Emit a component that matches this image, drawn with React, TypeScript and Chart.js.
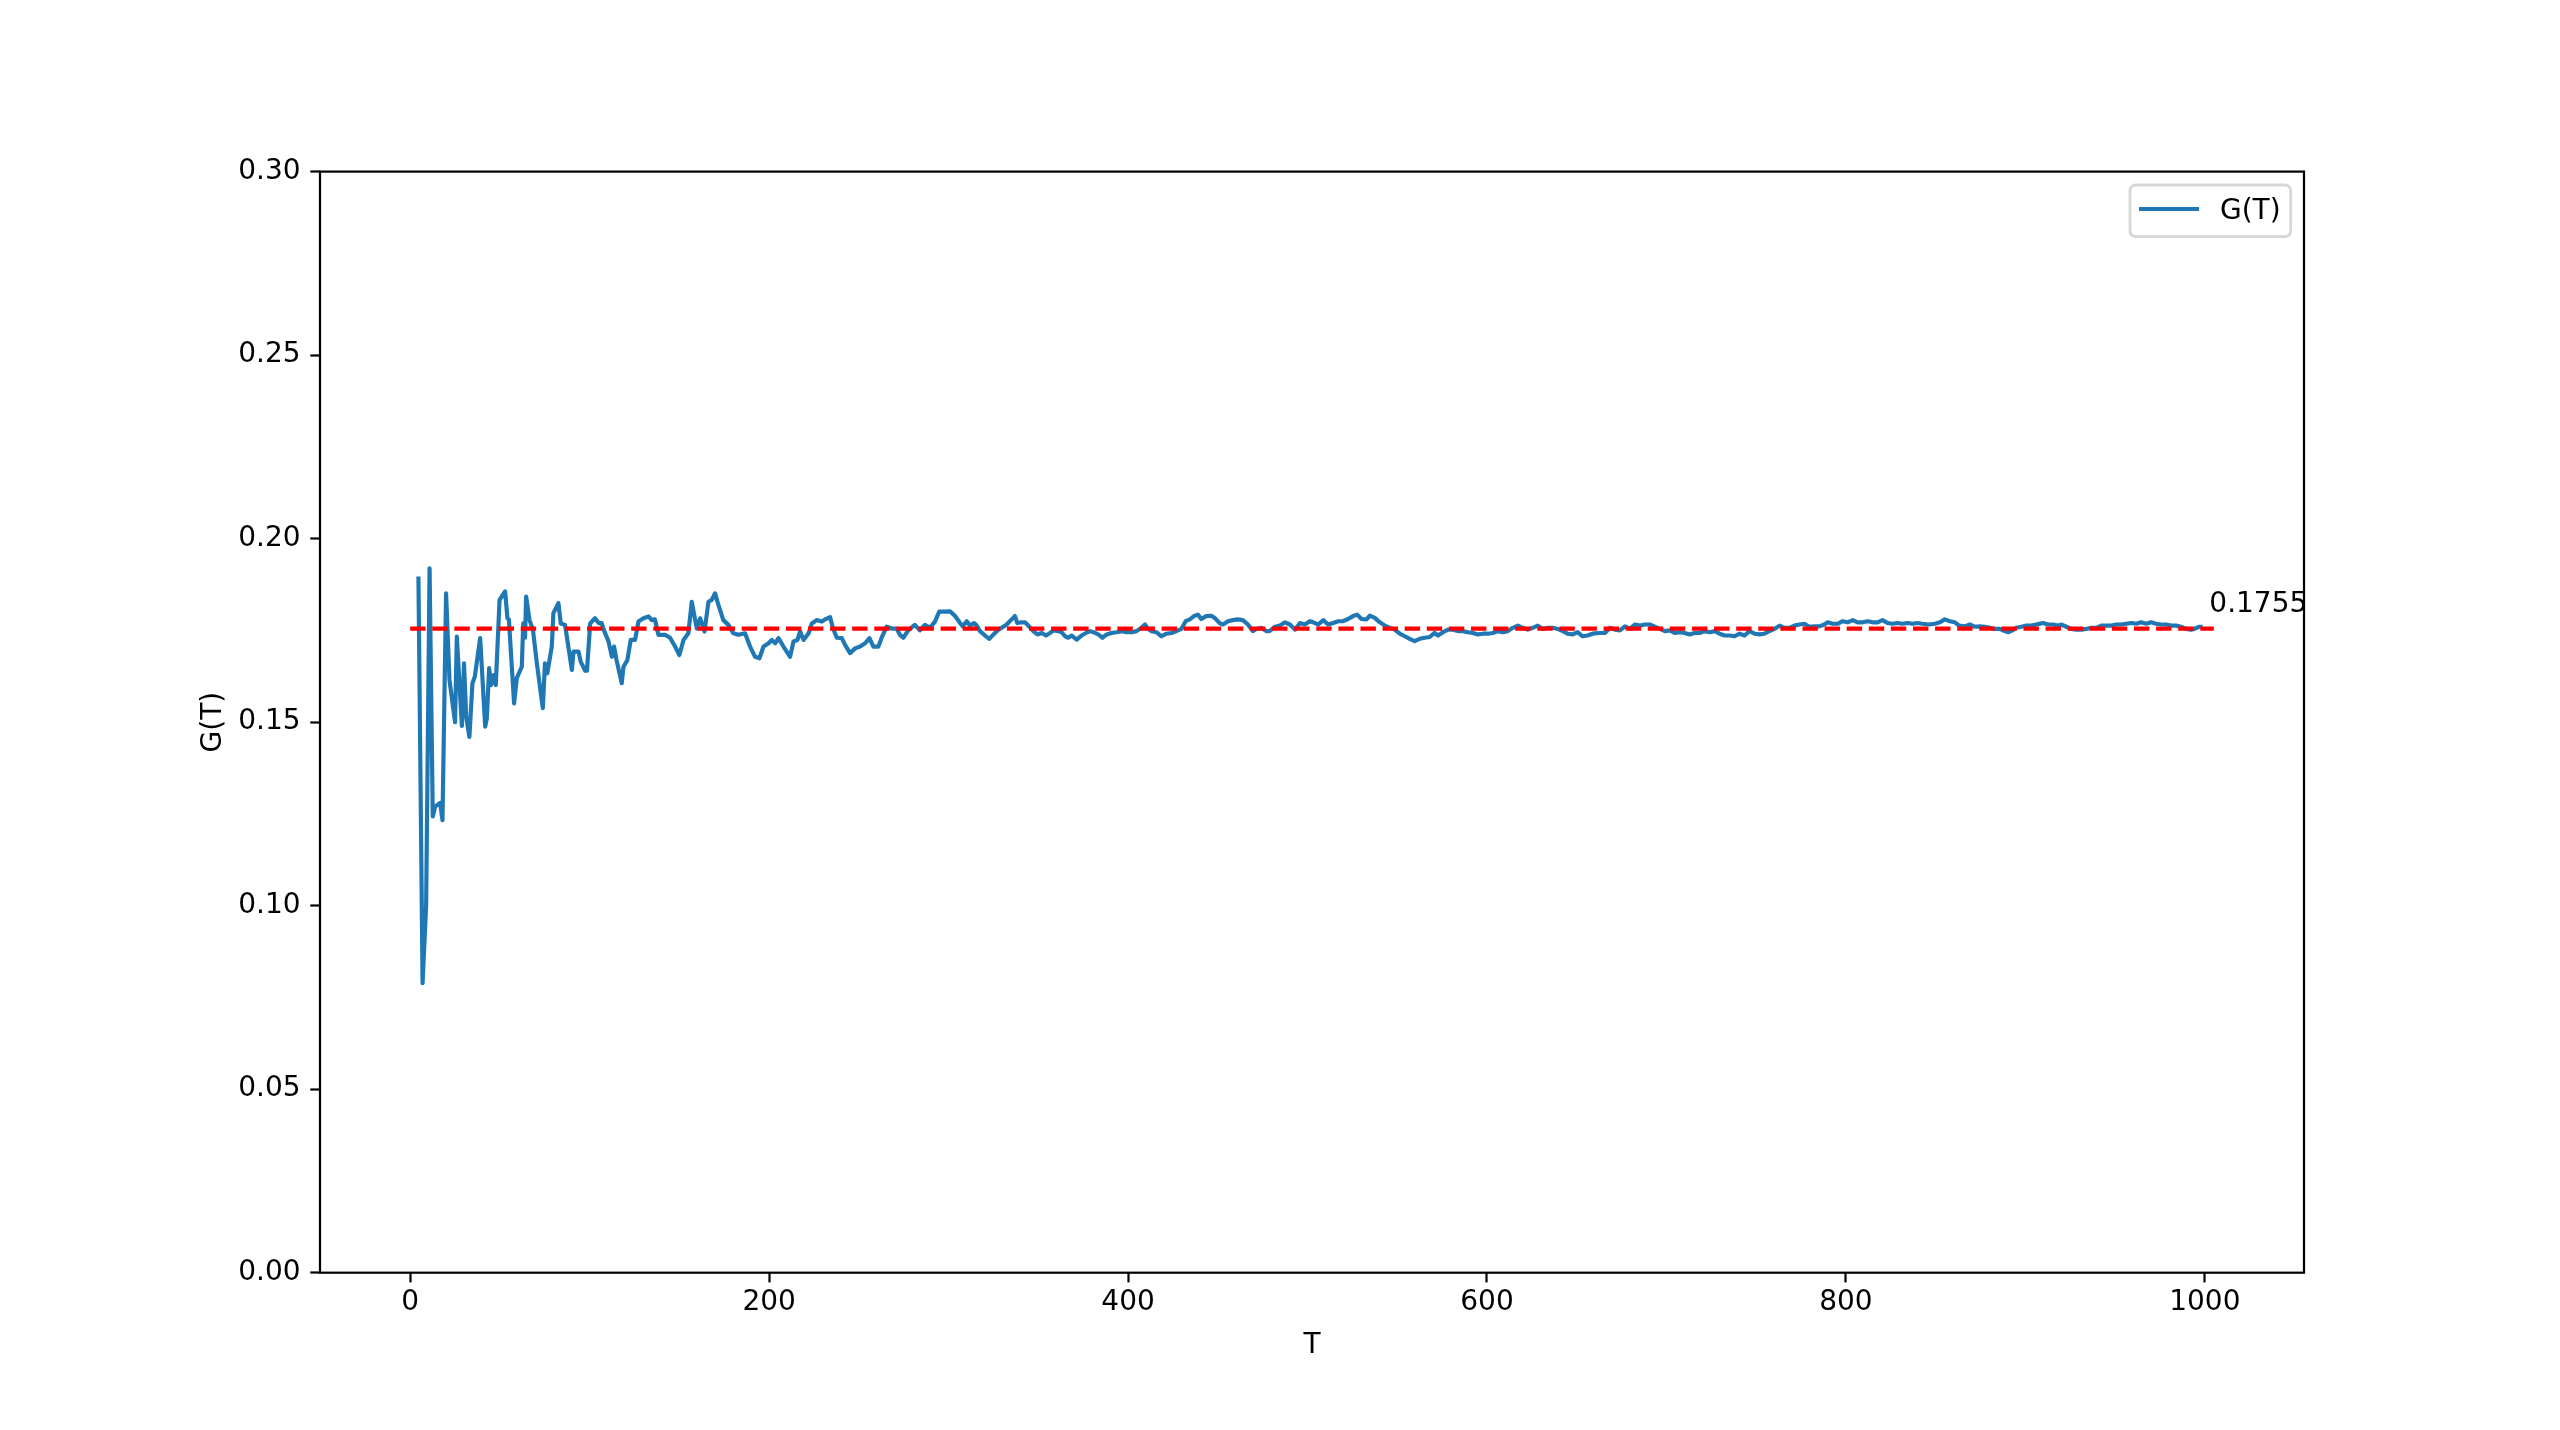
import React, { useEffect, useRef } from "react";
import { Chart, registerables } from "chart.js";

Chart.register(...registerables);

// ---- data ----
const tValues: number[] = [
  4.6, 6.9, 8.9, 10.8, 12.6, 13.9, 16.7, 18, 20, 21.9,
  25, 26, 28.8, 30, 31.2, 33, 34.7, 36, 39, 41.8,
  42.7, 44, 45, 46.5, 47.7, 49.8, 52.9, 54.2, 55, 57.9,
  59.4, 62.2, 63, 64, 64.6, 66.5, 68.4, 70.6, 73.9, 75.1,
  76.4, 78.9, 79.8, 82.6, 83.9, 86.3, 90.1, 91, 93.8, 95,
  97.5, 98.5, 100.3, 103, 105, 106.7, 108, 110.5, 112.4, 113.6,
  115, 117.9, 118.8, 121, 122.9, 125.3, 127.2, 130, 132.8, 134.6,
  136.4, 138.3, 142, 144.8, 147.6, 150, 152.3, 155, 156.9, 159.7,
  161.6, 164, 166.2, 168, 169.9, 171.7, 174.5, 177.3, 180, 183,
  186.6, 189.4, 192.2, 194.6, 196.9, 199.7, 201.5, 203.4, 205.2, 208,
  211.7, 213.6, 215.8, 217.3, 219.2, 222, 223.8, 226.6, 229.4, 231.2,
  234, 235.5, 237.7, 240.5, 242.4, 245.1, 247.9, 250.7, 253.5, 255.9,
  258.1, 260.9, 262.7, 265.5, 268.3, 271, 272.9, 274.8, 277.5, 281.2,
  284, 286.8, 289.6, 292.4, 294.8, 298, 300.8, 303.6, 306.4, 307.9,
  310.1, 312, 314.2, 315.7, 317.5, 320.3, 322.7, 325, 327.7, 329.6,
  332.4, 335.1, 337, 338.3, 340.7, 342.6, 345, 347.2, 349.5, 351.9,
  354.3, 356.5, 358.4, 361.2, 363, 364.9, 366.7, 368.6, 371.4, 374.1,
  376.6, 378.8, 380.7, 383.4, 385.8, 388.1, 390.8, 393.6, 396.4, 399.2,
  402, 404.7, 407.5, 409.4, 411.2, 413.1, 415.8, 418.6, 421.4, 424.2,
  426.9, 429.7, 432.1, 434.4, 437.1, 439, 440.8, 443.6, 446.4, 448.3,
  451, 452.9, 455.7, 458.4, 461.2, 464, 466.8, 469.5, 471.4, 474.2,
  477, 478.8, 481.9, 484.6, 487.4, 490.2, 493, 495.8, 498.5, 501.3,
  503.2, 506, 508.8, 511.5, 514.3, 517.1, 519.9, 522.6, 525.4, 527.7,
  530.1, 532.9, 534.7, 537.5, 540.3, 543.1, 545.8, 548.6, 551.4, 554.2,
  556.9, 559.7, 562.5, 565.3, 568.1, 570.8, 572.7, 575.5, 578.3, 581.1,
  583.8, 586.6, 589.4, 592.2, 594.9, 597.7, 600.5, 603.3, 606.1, 608.8,
  611.6, 614.4, 617.2, 619.9, 622.7, 625.5, 628.3, 631, 633.8, 636.6,
  639.4, 642.2, 644.9, 647.7, 650.5, 653.3, 656, 658.8, 662.5, 665.7,
  668.5, 671.3, 674.1, 676.9, 679.6, 682.4, 685.2, 688, 690.7, 693.5,
  696.3, 699.1, 701.9, 704.6, 707.4, 710.2, 713, 715.7, 718.5, 721.3,
  724.1, 726.9, 729.6, 732.4, 735.2, 738, 740.7, 743.5, 746.3, 749.1,
  751.9, 754.6, 757.4, 760.2, 763, 765.7, 768.5, 771.3, 774.1, 776.9,
  779.6, 782.4, 785.2, 788, 789.9, 792.6, 795.4, 798.2, 801, 803.8,
  806.5, 809.3, 812.1, 814.9, 817.6, 820.4, 823.2, 826, 828.8, 831.5,
  834.3, 837.1, 839.9, 842.6, 846.4, 849.6, 852.4, 855.1, 857.9, 860.7,
  863.1, 866.3, 869, 871.8, 874.6, 877.4, 880.2, 882.9, 885.7, 888.5,
  890.4, 892.8, 895, 897.8, 900.6, 903.4, 906.1, 909.8, 912.6, 915.4,
  918.2, 920, 922.8, 925.6, 928.4, 931.2, 933.9, 936.7, 939.5, 942.3,
  945.1, 947.8, 950.6, 953.4, 956.2, 958.9, 961.7, 964.5, 967.3, 970.1,
  972.8, 975.6, 978.4, 981.2, 984, 986.7, 989.5, 992.3, 994.1, 996.9,
  998.8,
];

const gValues: number[] = [
  0.1897, 0.0789, 0.1002, 0.1919, 0.1243, 0.127, 0.128, 0.1233, 0.1851, 0.1615,
  0.15, 0.1733, 0.149, 0.166, 0.1515, 0.146, 0.1606, 0.1624, 0.1729, 0.1488,
  0.151, 0.1647, 0.1601, 0.1628, 0.1601, 0.1833, 0.1856, 0.1783, 0.178, 0.1551,
  0.162, 0.1651, 0.1769, 0.173, 0.1842, 0.1778, 0.1752, 0.166, 0.1538, 0.166,
  0.1633, 0.1706, 0.1797, 0.1824, 0.1769, 0.1765, 0.1642, 0.1692, 0.1692, 0.1665,
  0.164, 0.164, 0.1769, 0.1783, 0.177, 0.177, 0.175, 0.172, 0.1678, 0.1706,
  0.1669, 0.1606, 0.165, 0.1669, 0.1724, 0.1724, 0.1774, 0.1783, 0.1788, 0.1778,
  0.178, 0.1738, 0.1738, 0.173, 0.1706, 0.1683, 0.1724, 0.1742, 0.1828, 0.1755,
  0.1783, 0.1747, 0.1828, 0.1833, 0.1851, 0.182, 0.1778, 0.1765, 0.1742, 0.1738,
  0.1742, 0.1706, 0.1678, 0.1674, 0.1706, 0.1715, 0.1724, 0.1715, 0.1729, 0.1706,
  0.1678, 0.172, 0.1724, 0.1747, 0.1724, 0.1742, 0.1769, 0.1778, 0.1774, 0.178,
  0.1786, 0.1757, 0.173, 0.1729, 0.171, 0.1688, 0.1701, 0.1706, 0.1715, 0.1729,
  0.1706, 0.1706, 0.173, 0.176, 0.1755, 0.1755, 0.1738, 0.173, 0.175, 0.1765,
  0.175, 0.1765, 0.1757, 0.1774, 0.1801, 0.1801, 0.1802, 0.1789, 0.177, 0.1761,
  0.1775, 0.1763, 0.177, 0.1763, 0.1748, 0.1736, 0.1727, 0.1739, 0.1752, 0.1757,
  0.1766, 0.178, 0.1789, 0.177, 0.1772, 0.1772, 0.176, 0.1748, 0.1739, 0.1743,
  0.1736, 0.1743, 0.175, 0.1748, 0.1745, 0.1734, 0.173, 0.1736, 0.1725, 0.1736,
  0.1743, 0.1748, 0.1745, 0.1739, 0.173, 0.1739, 0.1743, 0.1745, 0.1748, 0.1745,
  0.1745, 0.1748, 0.1757, 0.1766, 0.1754, 0.1748, 0.1745, 0.1734, 0.1741, 0.1743,
  0.1748, 0.1754, 0.1775, 0.178, 0.179, 0.1793, 0.1781, 0.1789, 0.179, 0.1784,
  0.177, 0.1766, 0.1775, 0.1778, 0.178, 0.1778, 0.1766, 0.1748, 0.1754, 0.1757,
  0.1748, 0.1748, 0.176, 0.1763, 0.1772, 0.1766, 0.1752, 0.177, 0.1766, 0.1775,
  0.1772, 0.1766, 0.1778, 0.1766, 0.177, 0.1775, 0.1775, 0.1781, 0.1789, 0.1793,
  0.1781, 0.178, 0.179, 0.1784, 0.1772, 0.1763, 0.1757, 0.1752, 0.1741, 0.1734,
  0.1727, 0.1721, 0.1727, 0.173, 0.1732, 0.1743, 0.1736, 0.1745, 0.1752, 0.1752,
  0.1748, 0.1748, 0.1745, 0.1743, 0.1739, 0.1741, 0.1741, 0.1743, 0.1748, 0.1745,
  0.1748, 0.1757, 0.1763, 0.1757, 0.1752, 0.1757, 0.1763, 0.1754, 0.1757, 0.1757,
  0.1754, 0.1748, 0.1741, 0.1739, 0.1745, 0.1734, 0.1736, 0.1741, 0.1743, 0.1743,
  0.1757, 0.1752, 0.175, 0.1761, 0.1754, 0.1766, 0.1763, 0.1766, 0.1766, 0.176,
  0.1754, 0.1748, 0.175, 0.1743, 0.1745, 0.1743, 0.1739, 0.1743, 0.1743, 0.1748,
  0.1745, 0.1748, 0.1741, 0.1736, 0.1736, 0.1734, 0.1741, 0.1736, 0.1748, 0.1741,
  0.1739, 0.1741, 0.1748, 0.1754, 0.1763, 0.1757, 0.1757, 0.1763, 0.1766, 0.1768,
  0.176, 0.1761, 0.1761, 0.1766, 0.1772, 0.1768, 0.1768, 0.1775, 0.1772, 0.1778,
  0.1772, 0.1772, 0.1775, 0.1772, 0.1772, 0.1778, 0.177, 0.1768, 0.177, 0.1768,
  0.177, 0.1768, 0.177, 0.1768, 0.1766, 0.1768, 0.1772, 0.178, 0.1775, 0.1772,
  0.1763, 0.1761, 0.1766, 0.176, 0.1761, 0.176, 0.1757, 0.1754, 0.1754, 0.1748,
  0.1745, 0.175, 0.1757, 0.176, 0.1763, 0.1763, 0.1766, 0.177, 0.1766, 0.1766,
  0.1763, 0.1766, 0.176, 0.1754, 0.1752, 0.1752, 0.1754, 0.1757, 0.1757, 0.1763,
  0.1763, 0.1763, 0.1766, 0.1766, 0.1768, 0.177, 0.1768, 0.1772, 0.1768, 0.1772,
  0.1768, 0.1766, 0.1766, 0.1763, 0.1763, 0.176, 0.1754, 0.1752, 0.1754, 0.176,
  0.176,
];

const refValue = 0.1755;
const refStartT = 0;
const refEndT = 1005;
const refLabel = "0.1755";
const refLabelT = 1002.5;
const refLabelG = 0.18;

const xMin = -50.25;
const xMax = 1055.25;
const xTicks = [0, 200, 400, 600, 800, 1000];
const xTickLabels = ["0", "200", "400", "600", "800", "1000"];
const yMin = 0;
const yMax = 0.3;
const yTicks = [0, 0.05, 0.1, 0.15, 0.2, 0.25, 0.3];
const yTickLabels = ["0.00", "0.05", "0.10", "0.15", "0.20", "0.25", "0.30"];

const seriesLabel = "G(T)";
const xTitle = "T";
const yTitle = "G(T)";

const BLUE = "#1f77b4";
const RED = "#ff0000";
const FONT = "'DejaVu Sans', sans-serif";
const FS = 28;

export default function App() {
  const canvasRef = useRef<HTMLCanvasElement | null>(null);

  useEffect(() => {
    document.body.style.margin = "0";
    const canvas = canvasRef.current;
    if (!canvas) return;

    const mainData = tValues.map((t, i) => ({ x: t, y: gValues[i] }));
    const refData = [
      { x: refStartT, y: refValue },
      { x: refEndT, y: refValue },
    ];

    const decor = {
      id: "decor",
      afterDatasetsDraw(chart: any) {
        const ctx = chart.ctx as CanvasRenderingContext2D;
        const ca = chart.chartArea;
        const xs = chart.scales.x;
        const ys = chart.scales.y;
        ctx.save();
        // spines
        ctx.strokeStyle = "#000";
        ctx.lineWidth = 2.2;
        ctx.strokeRect(ca.left, ca.top, ca.right - ca.left, ca.bottom - ca.top);

        // annotation text
        ctx.fillStyle = "#000";
        ctx.font = `${FS}px ${FONT}`;
        ctx.textAlign = "left";
        ctx.textBaseline = "alphabetic";
        ctx.fillText(refLabel, xs.getPixelForValue(refLabelT), ys.getPixelForValue(refLabelG));

        // axis titles
        ctx.textAlign = "center";
        ctx.fillText(xTitle, (ca.left + ca.right) / 2, ca.bottom + 80);
        ctx.save();
        ctx.translate(ca.left - 99, (ca.top + ca.bottom) / 2);
        ctx.rotate(-Math.PI / 2);
        ctx.fillText(yTitle, 0, 0);
        ctx.restore();

        // legend
        const bw = 160.7;
        const bh = 51.7;
        const bx = ca.right - 13.3 - bw;
        const by = ca.top + 13.4;
        const r = 5.6;
        ctx.beginPath();
        ctx.moveTo(bx + r, by);
        ctx.lineTo(bx + bw - r, by);
        ctx.arcTo(bx + bw, by, bx + bw, by + r, r);
        ctx.lineTo(bx + bw, by + bh - r);
        ctx.arcTo(bx + bw, by + bh, bx + bw - r, by + bh, r);
        ctx.lineTo(bx + r, by + bh);
        ctx.arcTo(bx, by + bh, bx, by + bh - r, r);
        ctx.lineTo(bx, by + r);
        ctx.arcTo(bx, by, bx + r, by, r);
        ctx.closePath();
        ctx.fillStyle = "rgba(255,255,255,0.8)";
        ctx.fill();
        ctx.strokeStyle = "rgba(204,204,204,0.8)";
        ctx.lineWidth = 2.78;
        ctx.stroke();

        const ly = by + 24;
        ctx.beginPath();
        ctx.moveTo(bx + 9, ly);
        ctx.lineTo(bx + 69, ly);
        ctx.strokeStyle = BLUE;
        ctx.lineWidth = 4.17;
        ctx.lineCap = "butt";
        ctx.stroke();

        ctx.fillStyle = "#000";
        ctx.textAlign = "left";
        ctx.textBaseline = "alphabetic";
        ctx.fillText(seriesLabel, bx + 90, by + 34);
        ctx.restore();
      },
    };

    const chart = new Chart(canvas, {
      type: "line",
      data: {
        datasets: [
          {
            label: "ref",
            data: refData,
            borderColor: RED,
            borderWidth: 4.17,
            borderDash: [15.4, 6.7],
            borderCapStyle: "butt",
            pointRadius: 0,
            tension: 0,
            fill: false,
            order: 1,
          },
          {
            label: seriesLabel,
            data: mainData,
            borderColor: BLUE,
            borderWidth: 4.17,
            borderJoinStyle: "round",
            borderCapStyle: "butt",
            pointRadius: 0,
            tension: 0,
            fill: false,
            order: 2,
          },
        ],
      },
      options: {
        animation: false,
        responsive: false,
        devicePixelRatio: 1,
        events: [],
        layout: { padding: { left: 0, right: 256, top: 171.6, bottom: 0 } },
        plugins: {
          legend: { display: false },
          tooltip: { enabled: false },
        },
        scales: {
          x: {
            type: "linear",
            min: xMin,
            max: xMax,
            afterBuildTicks: (scale: any) => {
              scale.ticks = xTicks.map((v) => ({ value: v }));
            },
            afterFit: (scale: any) => {
              scale.height = 1430 - 1272.7;
            },
            ticks: {
              autoSkip: false,
              maxRotation: 0,
              padding: 4,
              color: "#000",
              font: { family: FONT, size: FS },
              callback: (v: any) => {
                const i = xTicks.indexOf(Number(v));
                return i >= 0 ? xTickLabels[i] : "";
              },
            },
            grid: {
              display: true,
              drawOnChartArea: false,
              drawTicks: true,
              tickLength: 9.7,
              tickWidth: 2.2,
              tickColor: "#000",
            },
            border: { display: false },
          },
          y: {
            type: "linear",
            min: yMin,
            max: yMax,
            afterBuildTicks: (scale: any) => {
              scale.ticks = yTicks.map((v) => ({ value: v }));
            },
            afterFit: (scale: any) => {
              scale.width = 320;
            },
            ticks: {
              autoSkip: false,
              padding: 9.7,
              color: "#000",
              font: { family: FONT, size: FS },
              callback: (v: any) => {
                const n = Number(v);
                const i = yTicks.findIndex((t) => Math.abs(t - n) < 1e-9);
                return i >= 0 ? yTickLabels[i] : "";
              },
            },
            grid: {
              display: true,
              drawOnChartArea: false,
              drawTicks: true,
              tickLength: 9.7,
              tickWidth: 2.2,
              tickColor: "#000",
            },
            border: { display: false },
          },
        },
      },
      plugins: [decor],
    } as any);

    return () => {
      chart.destroy();
    };
  }, []);

  return (
    <div style={{ position: "absolute", left: 0, top: 0, width: 2560, height: 1430, background: "#fff" }}>
      <canvas ref={canvasRef} width={2560} height={1430} style={{ width: 2560, height: 1430, display: "block" }} />
    </div>
  );
}
